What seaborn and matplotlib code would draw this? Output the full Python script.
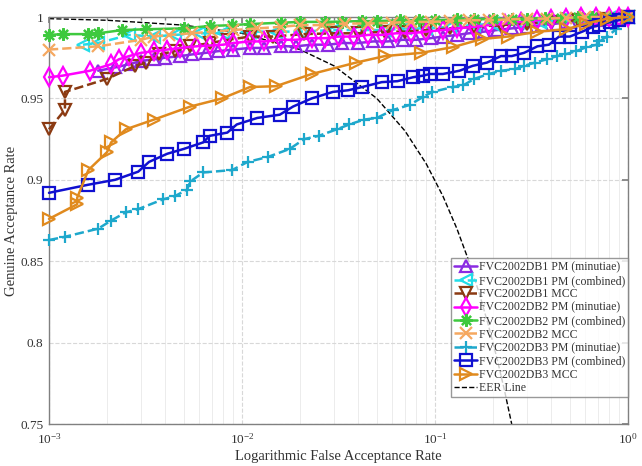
import matplotlib
matplotlib.use('Agg')
import matplotlib.pyplot as plt
import matplotlib.ticker as mticker
from matplotlib.lines import Line2D
import seaborn as sns

# --- data (FAR, GAR) ---
far_db1_min = [0.0018, 0.0022, 0.0026, 0.003, 0.0035, 0.004, 0.0048, 0.0055, 0.0065, 0.0075,
               0.009, 0.011, 0.013, 0.016, 0.019, 0.023, 0.028, 0.033, 0.04, 0.048,
               0.057, 0.068, 0.08, 0.095, 0.11, 0.13, 0.15, 0.18, 0.21, 0.25,
               0.3, 0.36, 0.43, 0.5, 0.6, 0.7, 0.8, 0.9, 1.0]
gar_db1_min = [0.967, 0.969, 0.971, 0.973, 0.974, 0.975, 0.976, 0.977, 0.978, 0.979,
               0.980, 0.981, 0.981, 0.982, 0.982, 0.983, 0.983, 0.984, 0.984, 0.985,
               0.985, 0.986, 0.986, 0.987, 0.988, 0.989, 0.990, 0.991, 0.992, 0.993,
               0.994, 0.995, 0.996, 0.997, 0.998, 0.998, 0.999, 0.9995, 1.0]

far_db1_comb = [0.0015, 0.0018, 0.0026, 0.0035, 0.0045, 0.006, 0.008, 0.011, 0.015, 0.02,
                0.03, 0.04, 0.055, 0.07, 0.09, 0.12, 0.16, 0.2, 0.27, 0.35,
                0.45, 0.6, 0.8, 1.0]
gar_db1_comb = [0.983, 0.984, 0.989, 0.988, 0.989, 0.990, 0.990, 0.991, 0.991, 0.991,
                0.992, 0.992, 0.992, 0.993, 0.993, 0.994, 0.995, 0.996, 0.997, 0.997,
                0.998, 0.999, 0.9995, 1.0]

far_db1_mcc = [0.001, 0.00121, 0.00121, 0.002, 0.0028, 0.0032, 0.0037, 0.0045, 0.0054, 0.0068,
               0.0085, 0.011, 0.0145, 0.021, 0.03, 0.04, 0.055, 0.07, 0.09, 0.12,
               0.16, 0.22, 0.3, 0.4, 0.55, 0.75, 1.0]
gar_db1_mcc = [0.931, 0.943, 0.954, 0.962, 0.970, 0.972, 0.977, 0.979, 0.982, 0.984,
               0.986, 0.988, 0.988, 0.9895, 0.990, 0.990, 0.991, 0.991, 0.992, 0.993,
               0.994, 0.995, 0.996, 0.997, 0.998, 0.999, 1.0]

far_db2_min = [0.001, 0.00118, 0.00163, 0.0021, 0.0023, 0.0026, 0.003, 0.0035, 0.0041, 0.0048,
               0.0058, 0.0068, 0.008, 0.009, 0.011, 0.013, 0.016, 0.019, 0.023, 0.027,
               0.032, 0.038, 0.045, 0.053, 0.063, 0.075, 0.09, 0.11, 0.13, 0.16,
               0.19, 0.23, 0.28, 0.34, 0.4, 0.48, 0.57, 0.68, 0.8, 0.9, 1.0]
gar_db2_min = [0.963, 0.964, 0.967, 0.971, 0.974, 0.976, 0.978, 0.979, 0.980, 0.981,
               0.982, 0.9825, 0.983, 0.984, 0.985, 0.985, 0.986, 0.986, 0.987, 0.987,
               0.988, 0.988, 0.989, 0.989, 0.990, 0.990, 0.991, 0.992, 0.993, 0.994,
               0.995, 0.996, 0.997, 0.998, 0.999, 0.9995, 1.0, 1.0, 1.0, 1.0, 1.0]

far_db2_comb = [0.001, 0.00118, 0.0016, 0.0018, 0.0024, 0.0032, 0.005, 0.0068, 0.0089, 0.011,
                0.016, 0.020, 0.027, 0.033, 0.042, 0.05, 0.066, 0.083, 0.1, 0.13,
                0.16, 0.2, 0.25, 0.3, 0.37, 0.45, 0.55, 0.65, 0.8, 1.0]
gar_db2_comb = [0.989, 0.9895, 0.9895, 0.990, 0.992, 0.9925, 0.993, 0.9945, 0.995, 0.9957,
                0.9965, 0.997, 0.997, 0.9972, 0.9975, 0.9975, 0.998, 0.998, 0.998, 0.9985,
                0.9985, 0.9988, 0.999, 0.999, 0.9993, 0.9995, 0.9997, 1.0, 1.0, 1.0]

far_db2_mcc = [0.001, 0.0018, 0.003, 0.0035, 0.0042, 0.0055, 0.007, 0.009, 0.012, 0.016,
               0.02, 0.026, 0.034, 0.045, 0.06, 0.075, 0.095, 0.12, 0.15, 0.19,
               0.24, 0.3, 0.38, 0.48, 0.6, 0.75, 1.0]
gar_db2_mcc = [0.980, 0.982, 0.986, 0.988, 0.989, 0.990, 0.991, 0.992, 0.993, 0.994,
               0.995, 0.995, 0.996, 0.996, 0.9965, 0.997, 0.997, 0.9975, 0.998, 0.998,
               0.9985, 0.999, 0.999, 0.9995, 1.0, 1.0, 1.0]

far_db3_min = [0.001, 0.00121, 0.0018, 0.0021, 0.0025, 0.0029, 0.0039, 0.0045, 0.0052, 0.0054,
               0.0063, 0.0089, 0.0107, 0.0136, 0.0177, 0.021, 0.025, 0.031, 0.036, 0.043,
               0.050, 0.061, 0.074, 0.087, 0.097, 0.124, 0.14, 0.16, 0.19, 0.22,
               0.26, 0.29, 0.33, 0.38, 0.43, 0.47, 0.54, 0.61, 0.69, 0.71, 0.78, 0.87, 1.0]
gar_db3_min = [0.863, 0.865, 0.870, 0.875, 0.880, 0.882, 0.888, 0.890, 0.894, 0.899,
               0.9045, 0.906, 0.911, 0.914, 0.919, 0.925, 0.927, 0.931, 0.934, 0.937,
               0.938, 0.943, 0.946, 0.951, 0.954, 0.957, 0.958, 0.962, 0.965, 0.967,
               0.968, 0.970, 0.972, 0.974, 0.976, 0.977, 0.979, 0.9815, 0.983, 0.985, 0.988, 0.9925, 1.0]

far_db3_comb = [0.001, 0.0016, 0.0022, 0.0029, 0.0033, 0.0041, 0.005, 0.0063, 0.0068, 0.0084,
                0.0094, 0.012, 0.0157, 0.0184, 0.023, 0.0296, 0.0355, 0.042, 0.053, 0.064,
                0.077, 0.087, 0.094, 0.11, 0.134, 0.157, 0.186, 0.22, 0.25, 0.29,
                0.34, 0.39, 0.44, 0.50, 0.58, 0.66, 0.71, 0.81, 0.90, 1.0]
gar_db3_comb = [0.892, 0.897, 0.900, 0.905, 0.911, 0.916, 0.919, 0.923, 0.927, 0.929,
                0.934, 0.938, 0.940, 0.945, 0.950, 0.954, 0.955, 0.957, 0.960, 0.9606,
                0.963, 0.964, 0.965, 0.965, 0.967, 0.970, 0.972, 0.976, 0.976, 0.978,
                0.982, 0.983, 0.988, 0.988, 0.991, 0.994, 0.995, 0.997, 0.998, 1.0]

far_db3_mcc = [0.001, 0.0014, 0.0014, 0.0016, 0.002, 0.0021, 0.0025, 0.0035, 0.0054, 0.0079,
               0.011, 0.015, 0.023, 0.039, 0.055, 0.085, 0.124, 0.175, 0.24, 0.34,
               0.48, 0.61, 0.78, 1.0]
gar_db3_mcc = [0.876, 0.885, 0.889, 0.906, 0.917, 0.923, 0.931, 0.937, 0.945, 0.950,
               0.957, 0.9575, 0.965, 0.972, 0.976, 0.978, 0.9815, 0.9865, 0.988, 0.991,
               0.9925, 0.996, 0.999, 1.0]

far_eer = [0.001, 0.002, 0.005, 0.01, 0.02, 0.03, 0.05, 0.07, 0.09, 0.11,
           0.13, 0.15, 0.17, 0.19, 0.21, 0.23, 0.25]
gar_eer = [0.999, 0.998, 0.995, 0.99, 0.98, 0.97, 0.95, 0.93, 0.91, 0.89,
           0.87, 0.85, 0.83, 0.81, 0.79, 0.77, 0.75]

asterisk = (8, 2, 0)  # MATLAB-like '*' marker

series = [
    ('FVC2002DB1 PM (minutiae)', far_db1_min, gar_db1_min, '#8a2be2', '^', '-'),
    ('FVC2002DB1 PM (combined)', far_db1_comb, gar_db1_comb, '#22dde8', '<', '--'),
    ('FVC2002DB1 MCC', far_db1_mcc, gar_db1_mcc, '#8b3a12', 'v', '--'),
    ('FVC2002DB2 PM (minutiae)', far_db2_min, gar_db2_min, '#ff00ff', 'd', '-'),
    ('FVC2002DB2 PM (combined)', far_db2_comb, gar_db2_comb, '#3ec93e', asterisk, '-'),
    ('FVC2002DB2 MCC', far_db2_mcc, gar_db2_mcc, '#f5a860', 'x', '--'),
    ('FVC2002DB3 PM (minutiae)', far_db3_min, gar_db3_min, '#1ea8cc', '+', '--'),
    ('FVC2002DB3 PM (combined)', far_db3_comb, gar_db3_comb, '#1010d0', 's', '-'),
    ('FVC2002DB3 MCC', far_db3_mcc, gar_db3_mcc, '#e08a1e', '>', '-'),
]

sns.set_theme(style='white')
plt.rcParams['font.family'] = ['Liberation Serif', 'DejaVu Serif']
plt.rcParams['mathtext.fontset'] = 'stix'

fig = plt.figure(figsize=(6.42, 4.66), dpi=100)
ax = fig.add_axes([0.0763, 0.0901, 0.9017, 0.8734])

handles = []
for name, fx, gy, col, mk, ls in series:
    sns.lineplot(x=fx, y=gy, ax=ax, color=col, marker=mk, linestyle=ls,
                 estimator=None, sort=False, lw=1.8, markersize=9,
                 mfc='none', mec=col, mew=1.6, clip_on=False, zorder=3)
    handles.append(Line2D([], [], color=col, marker=mk, linestyle=ls, lw=1.8,
                          markersize=9, mfc='none', mec=col, mew=1.6, label=name))

sns.lineplot(x=far_eer, y=gar_eer, ax=ax, color='black', linestyle='--', lw=1.0,
             estimator=None, sort=False, zorder=2)
handles.append(Line2D([], [], color='black', linestyle='--', lw=1.0, label='EER Line'))

ax.set_xscale('log')
ax.set_xlim(1e-3, 1)
ax.set_ylim(0.75, 1)
ax.set_yticks([0.75, 0.8, 0.85, 0.9, 0.95, 1.0])
ax.yaxis.set_major_formatter(mticker.FuncFormatter(lambda v, p: '%g' % v))

ax.grid(True, which='major', color='#d8d8d8', linestyle='--', lw=0.8)
ax.grid(True, which='minor', axis='x', color='#ececec', linestyle='-', lw=0.7)
ax.set_axisbelow(True)

for sp in ax.spines.values():
    sp.set_color('#808080')
    sp.set_linewidth(1.0)
ax.tick_params(which='both', direction='in', top=True, right=True, colors='#808080',
               labelcolor='#333333', labelsize=9.5)
ax.tick_params(axis='x', which='both', pad=6)
ax.tick_params(axis='y', which='both', pad=4)
ax.tick_params(which='major', length=4)
ax.tick_params(which='minor', length=2.5)

ax.set_xlabel('Logarithmic False Acceptance Rate', fontsize=10.5, color='#333333', labelpad=2)
ax.set_ylabel('Genuine Acceptance Rate', fontsize=10.5, color='#333333', labelpad=2)

leg = ax.legend(handles=handles, loc='lower right', bbox_to_anchor=(1.0, 0.066),
                fontsize=8.5, labelspacing=0.12, handlelength=2.0, handletextpad=0.1,
                borderpad=0.25, borderaxespad=0.0, frameon=True, fancybox=False)
leg.get_frame().set_edgecolor('#808080')
leg.get_frame().set_linewidth(1.0)
for t in leg.get_texts():
    t.set_color('#333333')

fig.savefig('out.png', dpi=100)
